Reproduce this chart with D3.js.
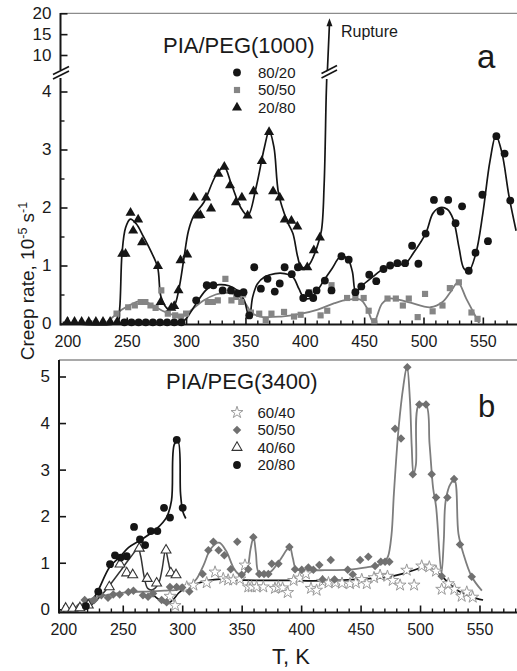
<!DOCTYPE html>
<html><head><meta charset="utf-8">
<script src="https://cdn.jsdelivr.net/npm/d3@7"></script>
<style>body{margin:0;background:#fff}svg{display:block}text{font-family:"Liberation Sans",Arial,sans-serif;fill:#1a1a1a}</style>
</head><body>
<script>
// ---------------- DATA ----------------
// Panel a : PIA/PEG(1000)  [T (K), creep rate (1e-5 1/s)]
const a8020Pts = [[248,0.02],[254,0.02],[260,0.02],[266,0.02],[272,0.02],[278,0.02],[284,0.02],[290,0.02],[296,0.02],
 [308.5,0.40],[317.4,0.66],[323,0.66],[330.8,0.57],[337.8,0.57],[343.4,0.52],[348.4,0.54],[353.2,0.14],[357.4,0.97],[363,0.60],
 [368.6,0.77],[374.7,0.55],[378.9,0.69],[383,0.97],[389,0.85],[394.2,0.97],[398.7,0.44],[403.4,0.52],[407.1,0.44],[409.9,0.57],
 [416.9,0.74],[422.5,0.57],[430.9,1.16],[437,1.10],[442.6,0.54],[447.6,0.64],[454.3,0.84],[460.2,0.73],[466.3,0.94],[471.9,1.0],
 [478,1.04],[484.5,1.04],[490.4,1.34],[495.7,1.03],[501.8,1.55],[508.8,2.13],[514.4,1.93],[520.8,2.13],[527,1.73],[532.5,2.02],
 [538.1,0.91],[543.8,1.22],[549.6,2.22],[554.3,1.42],[561.4,3.23],[568.3,2.93],[573.1,2.12]];
const a8020Fit = [[296,0.02],[300,0.08],[304,0.2],[309,0.36],[318,0.6],[328,0.67],[336,0.65],[344,0.56],[349,0.4],[352,0.17],
 [353.5,0.11],[356,0.45],[360,0.68],[366,0.8],[375,0.86],[383,0.86],[390,0.8],[395,0.6],[399,0.45],[404,0.43],[410,0.55],
 [416,0.74],[423,0.95],[430,1.15],[436,1.12],[440,0.9],[443,0.54],[448,0.65],[457,0.8],[466,0.94],[475,1.0],[485,1.04],
 [491,1.2],[502,1.56],[508,1.9],[514,2.0],[520,1.97],[525,1.8],[530,1.3],[534,0.95],[538,0.9],[544,1.2],[550,1.9],[556,2.8],
 [561,3.24],[566,2.95],[572,2.2],[578,1.6]];
const a5050Pts = [[241.4,0.17],[251.2,0.28],[256.8,0.31],[261.8,0.37],[265.7,0.37],[270,0.31],[274.3,0.27],[279.1,0.57],[284.6,0.17],
 [290.8,0.14],[295.8,0.12],[300,0.17],[318.3,0.37],[322.5,0.37],[326.7,0.40],[333.1,0.77],[338.2,0.40],[342.3,0.46],[346.5,0.37],
 [348,0.5],[354.6,0.19],[361.6,0.17],[367.1,0.05],[371.9,0.17],[382.5,0.20],[390.9,0.12],[396.5,0.15],[403.5,0.54],[407,0.45],
 [413.3,0.14],[418.9,0.22],[422.5,0.66],[435.6,0.44],[442.6,0.44],[449.6,0.44],[453.8,0.22],[458.5,0.04],[469.7,0.43],[476.7,0.43],
 [482.6,0.31],[487.6,0.43],[495.1,0.11],[501.3,0.51],[507.7,0.21],[516,0.31],[522.2,0.61],[529.8,0.71],[540.4,0.19],[545.5,0.08]];
const a5050Fit = [[233,0.02],[240,0.14],[246,0.24],[252,0.31],[260,0.38],[266,0.37],[272,0.31],[280,0.22],[287,0.16],[293,0.13],
 [299,0.15],[306,0.26],[315,0.4],[325,0.5],[333,0.53],[342,0.5],[348,0.4],[352,0.28],[355,0.19],[362,0.12],[380,0.12],[395,0.16],
 [411,0.24],[425,0.35],[436,0.41],[447,0.41],[452,0.28],[458,0.02],[465,0.34],[471,0.43],[487,0.37],[506,0.28],[516,0.37],
 [523,0.55],[529,0.71],[536,0.43],[547,0.0]];
const a2080Pts = [[200,0.03],[206,0.03],[212,0.03],[218,0.03],[224,0.03],[230,0.03],[236,0.03],[242,0.03],
 [246.2,1.20],[249,1.20],[253.2,1.91],[255.4,1.60],[259.6,1.79],[262.9,1.40],[276.3,0.99],[278.6,0.37],[287.5,0.27],[290,0.30],
 [293.6,0.57],[295.3,1.09],[300.9,1.19],[306.5,2.17],[309.9,1.86],[312,1.87],[316.8,2.17],[321,1.98],[327.2,2.58],[332.2,2.70],
 [337,2.38],[342,2.09],[347,2.17],[351.8,1.86],[356.8,2.28],[363.8,2.80],[369.9,3.30],[373.3,2.28],[378.9,2.17],[383.1,1.79],
 [388.7,1.77],[393.7,1.67],[395.9,0.97],[402.1,0.97],[407.6,1.26],[412.7,1.48]];
const a2080Fit = [[196,0.02],[242,0.02],[244,0.25],[246,1.2],[249,1.65],[253,1.8],[258,1.72],[264,1.5],[270,1.26],[276,0.97],
 [279,0.45],[285,0.25],[290,0.31],[294,0.6],[298,1.1],[302,1.6],[306.5,1.86],[315,2.09],[325,2.55],[332,2.7],[338,2.41],[346,2.0],
 [352,1.86],[359,2.35],[366,3.04],[370,3.32],[374,3.04],[378,2.23],[385,1.77],[390,1.55],[394,1.15],[397,0.97],[403,1.0],
 [410,1.3],[414,1.6],[416.3,2.4],[418,3.9],[418.6,4.3]];
const a2080Rupture = [[419.0,6.0],[420.8,18.6]];   // continues on the broken (upper) scale

// Panel b : PIA/PEG(3400)
const b6040Pts = [[289.7,0.28],[294,0.08],[303.8,0.48],[309.4,0.52],[320.6,0.57],[327.6,0.80],[334.5,0.66],[338.6,0.63],[342.9,0.63],
 [348.5,0.65],[352.8,0.95],[355.6,0.48],[358.4,0.48],[362.6,0.48],[368.2,0.48],[378,0.45],[380.8,0.48],[384.4,0.46],[388.7,0.36],
 [393.7,0.62],[398.7,0.67],[404,0.76],[408.3,0.45],[413,0.41],[418,0.60],[423,0.57],[428.8,0.57],[434.4,0.56],[441.1,0.55],
 [446,0.57],[451,0.64],[455.2,0.55],[461.3,0.68],[466.4,0.73],[472.6,0.71],[477,0.62],[483.2,0.52],[488.8,0.84],[495,0.52],
 [501.4,0.93],[507.8,0.91],[513.4,0.82],[518.2,0.43],[523.8,0.55],[528.9,0.43],[535,0.28],[539.3,0.37],[544.3,0.26]];
const b6040Fit = [[276,0.3],[281,0.2],[287,0.12],[292,0.2],[297,0.35],[303,0.47],[312,0.55],[322,0.62],[332,0.65],[345,0.63],
 [370,0.62],[390,0.62],[410,0.61],[430,0.62],[450,0.65],[470,0.68],[485,0.76],[497,0.86],[505,0.92],[512,0.83],[518,0.72],
 [525,0.54],[532,0.4],[540,0.3],[548,0.23],[553,0.2]];
const b5050Pts = [[212.6,0.04],[218,0.2],[222,0.15],[226,0.2],[232,0.3],[237.6,0.25],[242,0.32],[247.4,0.32],[254.7,0.37],[259,0.40],
 [267,0.3],[271.3,0.27],[275.5,0.34],[282.7,0.2],[286.9,0.15],[289.7,0.48],[295.3,0.48],[300,0.47],[306,0.38],[317.2,0.76],
 [322,1.27],[326.2,1.45],[330.6,1.27],[335.4,1.16],[340.8,0.86],[346.3,1.45],[350,0.74],[355.6,0.86],[359.8,1.55],[364.8,0.76],
 [368.8,0.76],[372.4,0.76],[375.3,0.98],[380.9,0.98],[390.1,1.34],[394.9,0.86],[400.5,0.85],[406.1,0.90],[410.3,0.85],[415.3,0.95],
 [418,0.64],[424.9,1.06],[428,0.64],[439.2,0.85],[443.4,0.75],[449.6,1.06],[456.5,1.13],[462.2,0.93],[467,1.02],[470.6,1.02],
 [474.2,1.02],[479,3.88],[484,3.67],[489.3,5.2],[493.9,2.9],[499.4,4.40],[505,4.40],[509.8,2.9],[513.5,2.40],[518.2,0.71],
 [523,2.40],[528.6,2.8],[533.6,1.39],[543.5,0.70]];
const b5050Fit = [[212,0.02],[218,0.15],[226,0.25],[235,0.3],[245,0.34],[255,0.37],[270,0.38],[285,0.4],[298,0.43],[306,0.5],
 [312,0.65],[318,0.95],[324,1.3],[331,1.43],[337,1.25],[343,0.9],[347,0.77],[352,0.77],[355,0.9],[357.5,1.3],[360,1.55],
 [362,1.2],[364,0.81],[368,0.77],[374,0.8],[382,1.05],[388,1.28],[390.5,1.34],[393,1.1],[396,0.86],[405,0.84],[420,0.84],
 [440,0.85],[455,0.9],[465,0.95],[470,1.02],[473,1.13],[476,1.6],[478,2.48],[482,3.9],[486,4.8],[489,5.22],[491.5,4.5],
 [493,3.5],[494.5,2.9],[496.5,3.1],[499,4.39],[505,4.39],[508,3.55],[511,2.6],[513.5,2.2],[518,0.77],[520,1.5],[521.6,2.34],
 [525.8,2.7],[529,2.77],[532.3,1.62],[536.5,1.19],[543.5,0.7],[552,0.4]];
const b4060Pts = [[202,0.02],[208,0.02],[214,0.03],[221,0.09],[238.7,0.48],[247.7,0.97],[253.3,0.78],[258.4,0.74],[263.9,1.31],
 [270.6,0.66],[278.5,0.56],[286.4,1.27],[290.4,0.78],[294.8,0.74]];
const b4060Fit = [[216,0.0],[224,0.1],[232,0.3],[240,0.55],[248,0.82],[256,1.1],[263,1.3],[265,1.15],[268,0.7],[271,0.45],
 [275,0.42],[280,0.55],[283,0.85],[286,1.27],[288.5,1.0],[291,0.76],[295,0.7]];
const b2080Pts = [[219,0.07],[229.4,0.38],[239.3,0.97],[243.5,1.16],[248.2,1.11],[253.3,1.14],[259.5,1.77],[264.5,1.50],
 [268.8,1.38],[273.6,1.68],[279.1,1.68],[284.7,2.18],[289.7,1.97],[295.4,3.64],[300.4,2.18]];
const b2080Fit = [[216,0.0],[222,0.12],[228,0.34],[239,0.91],[247.7,1.13],[255,1.33],[264.5,1.48],[278.5,1.73],[286.9,1.98],
 [291,2.34],[293.5,3.55],[296.5,3.6],[298.6,2.48],[300.5,2.1],[303,1.95]];

const xTickVals = [200,250,300,350,400,450,500,550];
const xTickLabels = ["200","250","300","350","400","450","500","550"];
const yTicksA = [0,1,2,3,4];
const yTicksAUpper = [10,15,20];
const yTicksB = [0,1,2,3,4,5];
const legendA = ["80/20","50/50","20/80"];
const legendB = ["60/40","50/50","40/60","20/80"];

// ---------------- DRAW ----------------
const W=517,H=671;
const svg=d3.select("body").append("svg").attr("width",W).attr("height",H);
svg.append("rect").attr("width",W).attr("height",H).attr("fill","#fff");
const BLK="#151515", GRY="#7d7d7d";

function sym(type,size){return d3.symbol().type(type).size(size)();}
function points(g,data,x,y,type,size,fill,stroke,sw,rot){
  g.selectAll(null).data(data).enter().append("path")
   .attr("d",sym(type,size)).attr("transform",d=>`translate(${x(d[0])},${y(d[1])})`+(rot?` rotate(${rot})`:""))
   .attr("fill",fill).attr("stroke",stroke||"none").attr("stroke-width",sw||0);
}
function curve(g,data,x,y,color,w){
  g.append("path").datum(data).attr("fill","none").attr("stroke",color).attr("stroke-width",w||1.7)
   .attr("d",d3.line().x(d=>x(d[0])).y(d=>y(d[1])).curve(d3.curveCatmullRom.alpha(0.5)));
}
function xAxis(g,x,yPos,left,right){
  const minor=d3.range(200,581,10).filter(v=>v%50!==0);
  g.append("g").attr("transform",`translate(0,${yPos})`)
   .call(d3.axisBottom(x).tickValues(minor).tickSize(-4).tickFormat("").tickSizeOuter(0))
   .call(s=>s.select(".domain").remove()).selectAll("line").attr("stroke",BLK).attr("stroke-width",1.4);
  const ax=g.append("g").attr("transform",`translate(0,${yPos})`)
   .call(d3.axisBottom(x).tickValues(xTickVals).tickSize(-7).tickPadding(11).tickSizeOuter(0)
     .tickFormat((d,i)=>xTickLabels[i]));
  ax.select(".domain").remove();
  ax.selectAll("line").attr("stroke",BLK).attr("stroke-width",1.6);
  ax.selectAll("text").attr("font-size",16).attr("fill","#222").style("font-family","'Liberation Sans',Arial,sans-serif");
  g.append("line").attr("x1",left).attr("x2",right).attr("y1",yPos).attr("y2",yPos).attr("stroke",BLK).attr("stroke-width",2.2);
}
function yTicks(g,y,vals,minor,xPos){
  if(minor.length){
    g.append("g").attr("transform",`translate(${xPos},0)`)
     .call(d3.axisLeft(y).tickValues(minor).tickSize(-4).tickFormat("").tickSizeOuter(0))
     .call(s=>s.select(".domain").remove()).selectAll("line").attr("stroke",BLK).attr("stroke-width",1.4);
  }
  const ax=g.append("g").attr("transform",`translate(${xPos},0)`)
   .call(d3.axisLeft(y).tickValues(vals).tickSize(-7).tickPadding(9).tickSizeOuter(0).tickFormat(d3.format("d")));
  ax.select(".domain").remove();
  ax.selectAll("line").attr("stroke",BLK).attr("stroke-width",1.6);
  ax.selectAll("text").attr("font-size",17).attr("fill","#222").style("font-family","'Liberation Sans',Arial,sans-serif");
}

// ---------- Panel a ----------
const axL=60.5;
const xa=d3.scaleLinear().domain([200,550]).range([67.4,482.85]);
const yaLo=d3.scaleLinear().domain([0,4]).range([323.5,91.5]);
const yaHi=d3.scaleLinear().domain([10,20]).range([55,13.3]);
const defs=svg.append("defs");
defs.append("clipPath").attr("id","ca").append("rect").attr("x",axL).attr("y",79).attr("width",W-axL).attr("height",250);
defs.append("clipPath").attr("id","cb").append("rect").attr("x",59).attr("y",361).attr("width",W-59).attr("height",255);

const ga=svg.append("g");
ga.append("line").attr("x1",axL).attr("x2",W).attr("y1",13.3).attr("y2",13.3).attr("stroke","#8c8c8c").attr("stroke-width",1.3);
ga.append("line").attr("x1",axL).attr("x2",axL).attr("y1",325.5).attr("y2",78).attr("stroke",BLK).attr("stroke-width",2);
ga.append("line").attr("x1",axL).attr("x2",axL).attr("y1",70).attr("y2",13).attr("stroke",BLK).attr("stroke-width",2);
yTicks(ga,yaLo,yTicksA,[0.5,1.5,2.5,3.5],axL);
yTicks(ga,yaHi,yTicksAUpper,[],axL);
[[0,0],[0,4.5]].forEach(o=>{
  ga.append("line").attr("x1",53).attr("y1",79+o[1]-4.5).attr("x2",69).attr("y2",71+o[1]-4.5).attr("stroke",BLK).attr("stroke-width",1.6);
});
xAxis(ga,xa,324.5,axL,W);

const pa=ga.append("g").attr("clip-path","url(#ca)");
curve(pa,a5050Fit,xa,yaLo,GRY,1.8);
curve(pa,a8020Fit,xa,yaLo,BLK,1.7);
curve(pa,a2080Fit,xa,yaLo,BLK,1.7);
points(pa,a5050Pts,xa,yaLo,d3.symbolSquare,38,"#858585");
points(pa,a8020Pts,xa,yaLo,d3.symbolCircle,48,BLK);
points(pa,a2080Pts,xa,yaLo,d3.symbolTriangle,44,BLK);
const rLo=a2080Fit[a2080Fit.length-1];
ga.append("path").attr("fill","none").attr("stroke",BLK).attr("stroke-width",1.7)
  .attr("d",d3.line()([[xa(rLo[0]),yaLo(rLo[1])],[xa(a2080Rupture[0][0]),yaHi(a2080Rupture[0][1])],[xa(a2080Rupture[1][0]),yaHi(a2080Rupture[1][1])+4]]));
const tip=[xa(a2080Rupture[1][0]),yaHi(a2080Rupture[1][1])];
ga.append("path").attr("d",`M${tip[0]},${tip[1]-1}L${tip[0]-3},${tip[1]+7}L${tip[0]+3},${tip[1]+7}Z`).attr("fill",BLK);
ga.append("rect").attr("x",320).attr("y",70.5).attr("width",18).attr("height",4).attr("fill","#fff").attr("transform","rotate(-28,329,72.5)");
[0,4.5].forEach(o=>{
  ga.append("line").attr("x1",321.5).attr("y1",78-o).attr("x2",337).attr("y2",70-o).attr("stroke",BLK).attr("stroke-width",1.6);
});
ga.append("text").attr("x",341).attr("y",37).attr("font-size",16).text("Rupture");
ga.append("text").attr("x",163).attr("y",53).attr("font-size",22).text("PIA/PEG(1000)");
ga.append("text").attr("x",477).attr("y",68).attr("font-size",33).text("a");
const legAy=[72.5,90,107.5];
const legAsym=[[d3.symbolCircle,48,BLK],[d3.symbolSquare,38,"#858585"],[d3.symbolTriangle,44,BLK]];
legendA.forEach((t,i)=>{
  ga.append("path").attr("d",sym(legAsym[i][0],legAsym[i][1])).attr("transform",`translate(237,${legAy[i]})`).attr("fill",legAsym[i][2]);
  ga.append("text").attr("x",258).attr("y",legAy[i]).attr("dy","0.36em").attr("font-size",15).text(t);
});

// ---------- Panel b ----------
const bxL=59;
const xb=d3.scaleLinear().domain([200,550]).range([63.3,479.5]);
const yb=d3.scaleLinear().domain([0,5]).range([609.3,376.5]);
const gb=svg.append("g");
gb.append("line").attr("x1",bxL).attr("x2",W).attr("y1",360).attr("y2",360).attr("stroke","#8c8c8c").attr("stroke-width",1.3);
gb.append("line").attr("x1",bxL).attr("x2",bxL).attr("y1",613.5).attr("y2",360).attr("stroke",BLK).attr("stroke-width",2);
yTicks(gb,yb,yTicksB,[],bxL);
xAxis(gb,xb,612.5,bxL,W);
const pb=gb.append("g").attr("clip-path","url(#cb)");
curve(pb,b5050Fit,xb,yb,GRY,1.8);
curve(pb,b6040Fit,xb,yb,BLK,1.7);
curve(pb,b4060Fit,xb,yb,"#333",1.5);
curve(pb,b2080Fit,xb,yb,BLK,1.7);
points(pb,b6040Pts,xb,yb,d3.symbolStar,44,"#fff","#9a9a9a",1);
points(pb,b5050Pts,xb,yb,d3.symbolSquare,36,"#707070",null,0,45);
points(pb,b4060Pts,xb,yb,d3.symbolTriangle,42,"#fff","#333",1.1);
points(pb,b2080Pts,xb,yb,d3.symbolCircle,48,BLK);
gb.append("text").attr("x",166).attr("y",388.5).attr("font-size",22).text("PIA/PEG(3400)");
gb.append("text").attr("x",478).attr("y",417).attr("font-size",31).text("b");
const legBy=[412.5,430,447.5,465];
const legBsym=[[d3.symbolStar,44,"#fff","#9a9a9a",1,0],[d3.symbolSquare,36,"#707070",null,0,45],[d3.symbolTriangle,42,"#fff","#333",1.1,0],[d3.symbolCircle,48,BLK,null,0,0]];
legendB.forEach((t,i)=>{
  const s=legBsym[i];
  gb.append("path").attr("d",sym(s[0],s[1])).attr("transform",`translate(237,${legBy[i]}) rotate(${s[5]})`).attr("fill",s[2]).attr("stroke",s[3]||"none").attr("stroke-width",s[4]||0);
  gb.append("text").attr("x",257.5).attr("y",legBy[i]).attr("dy","0.36em").attr("font-size",15).text(t);
});

// ---------- Axis titles ----------
const yt=svg.append("text").attr("transform","translate(34,281) rotate(-90)").attr("text-anchor","middle").attr("font-size",19);
yt.append("tspan").text("Creep rate, 10");
yt.append("tspan").attr("font-size",12.5).attr("dy",-7).text("-5");
yt.append("tspan").attr("dy",7).text(" s");
yt.append("tspan").attr("font-size",12.5).attr("dy",-7).text("-1");
svg.append("text").attr("x",291).attr("y",664).attr("text-anchor","middle").attr("font-size",22).text("T, K");
</script>
</body></html>
